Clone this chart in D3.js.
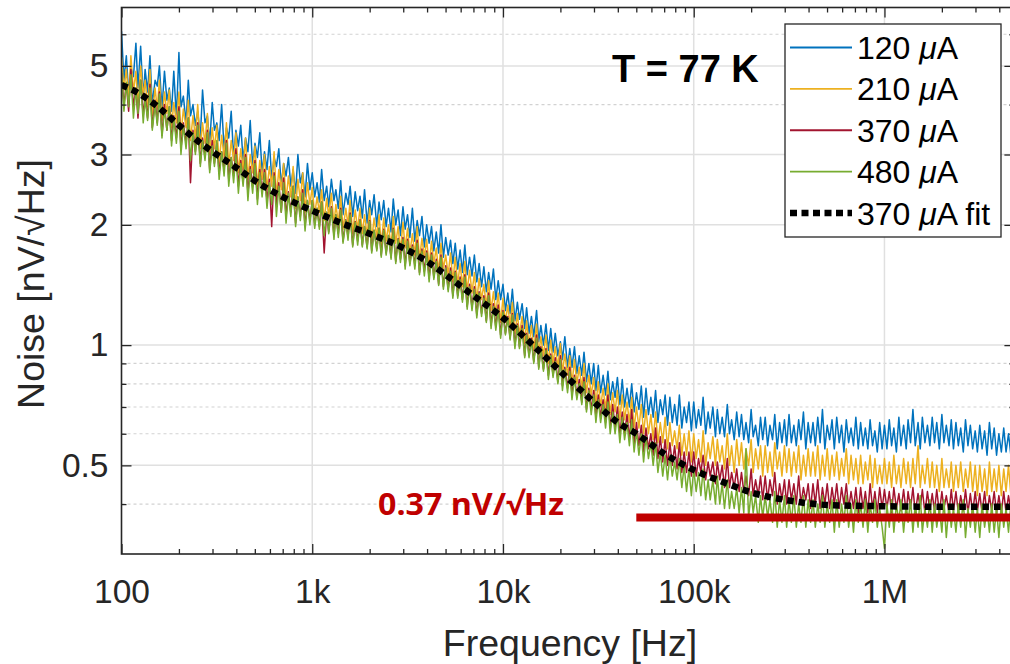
<!DOCTYPE html>
<html>
<head>
<meta charset="utf-8">
<script src="https://cdn.jsdelivr.net/npm/d3@7"></script>
<style>
  html, body { margin: 0; padding: 0; background: #fff; }
  svg { display: block; font-family: "Liberation Sans", Arial, Helvetica, sans-serif; }
</style>
</head>
<body>
<svg id="chart" width="1010" height="664"></svg>
<script>
// Sample frequencies of the measured spectra (Hz), 80 points per decade
const freqHz = [
  100,103,106,109,112,115.5,119,122,126,130,133,137,141,145,150,154,158,163,168,173,178,183,188,194,200,205,211,218,224,230,237,244,251,259,266,274,282,290,299,307,
  316,325,335,345,355,365,376,387,398,410,422,434,447,460,473,487,501,516,531,546,562,579,596,613,631,649,668,688,708,729,750,772,794,818,841,866,891,917,944,972,
  1000,1030,1060,1090,1120,1155,1190,1220,1260,1300,1330,1370,1410,1450,1500,1540,1580,1630,1680,1730,1780,1830,1880,1940,2000,2050,2110,2180,2240,2300,2370,2440,2510,2590,2660,2740,2820,2900,2990,3070,
  3160,3250,3350,3450,3550,3650,3760,3870,3980,4100,4220,4340,4470,4600,4730,4870,5010,5160,5310,5460,5620,5790,5960,6130,6310,6490,6680,6880,7080,7290,7500,7720,7940,8180,8410,8660,8910,9170,9440,9720,
  10000,10300,10600,10900,11200,11550,11900,12200,12600,13000,13300,13700,14100,14500,15000,15400,15800,16300,16800,17300,17800,18300,18800,19400,20000,20500,21100,21800,22400,23000,23700,24400,25100,25900,26600,27400,28200,29000,29900,30700,
  31600,32500,33500,34500,35500,36500,37600,38700,39800,41000,42200,43400,44700,46000,47300,48700,50100,51600,53100,54600,56200,57900,59600,61300,63100,64900,66800,68800,70800,72900,75000,77200,79400,81800,84100,86600,89100,91700,94400,97200,
  100000,103000,106000,109000,112000,115500,119000,122000,126000,130000,133000,137000,141000,145000,150000,154000,158000,163000,168000,173000,178000,183000,188000,194000,200000,205000,211000,218000,224000,230000,237000,244000,251000,259000,266000,274000,282000,290000,299000,307000,
  316000,325000,335000,345000,355000,365000,376000,387000,398000,410000,422000,434000,447000,460000,473000,487000,501000,516000,531000,546000,562000,579000,596000,613000,631000,649000,668000,688000,708000,729000,750000,772000,794000,818000,841000,866000,891000,917000,944000,972000,
  1000000,1030000,1060000,1090000,1120000,1155000,1190000,1220000,1260000,1300000,1330000,1370000,1410000,1450000,1500000,1540000,1580000,1630000,1680000,1730000,1780000,1830000,1880000,1940000,2000000,2050000,2110000,2180000,2240000,2300000,2370000,2440000,2510000,2590000,2660000,2740000,2820000,2900000,2990000,3070000,
  3160000,3250000,3350000,3450000,3550000,3650000,3760000,3870000,3980000,4100000,4220000,4340000,4470000,4600000,4730000,4870000
];

// Noise spectral density (nV/sqrt(Hz)) for each bias current
const noise120uA = [
  6.1,4.6,5.3,4.25,4.95,4.7,5.7,4.4,5.6,4.15, 4.9,4.3,5.3,4.0,4.6,4.45,5.0,3.9,4.85,4.1,
  4.4,3.85,4.85,3.7,5.4,3.95,4.2,3.6,4.6,3.75, 4.0,3.55,3.85,3.3,4.35,3.6,3.75,3.2,4.05,3.45,
  3.6,3.25,4.0,3.1,3.5,3.3,3.85,2.95,3.45,3.15, 3.55,2.9,3.3,3.05,3.65,2.8,3.2,2.95,3.4,2.7,
  3.05,2.75,3.25,2.6,2.95,2.8,3.1,2.5,2.85,2.65, 2.95,2.5,2.75,2.4,3.0,2.55,2.7,2.35,2.85,2.45,
  2.7,2.35,2.55,2.28,2.75,2.3,2.5,2.22,2.6,2.3, 2.45,2.2,2.58,2.12,2.4,2.25,2.5,2.1,2.42,2.17,
  2.36,2.08,2.45,2.02,2.3,2.12,2.38,1.98,2.28,2.06, 2.3,1.98,2.2,1.92,2.32,2.0,2.18,1.88,2.22,1.95,
  2.12,1.86,2.2,1.82,2.05,1.88,2.1,1.76,2.0,1.8, 1.98,1.72,1.92,1.7,2.0,1.66,1.86,1.68,1.83,1.6,
  1.8,1.55,1.73,1.52,1.78,1.5,1.66,1.49,1.68,1.44, 1.6,1.4,1.57,1.36,1.52,1.38,1.55,1.3,1.45,1.3,
  1.42,1.22,1.35,1.2,1.38,1.15,1.28,1.16,1.27,1.1, 1.24,1.07,1.18,1.05,1.22,1.02,1.12,1.0,1.13,0.97,
  1.1,0.96,1.07,0.94,1.02,0.92,1.05,0.88,0.98,0.88, 0.99,0.85,0.94,0.84,0.96,0.81,0.9,0.8,0.9,0.77,
  0.89,0.76,0.84,0.75,0.86,0.73,0.81,0.74,0.83,0.71, 0.82,0.7,0.78,0.7,0.8,0.68,0.76,0.69,0.79,0.66,
  0.78,0.67,0.74,0.66,0.77,0.64,0.73,0.67,0.75,0.63, 0.74,0.64,0.71,0.63,0.75,0.62,0.7,0.64,0.72,0.61,
  0.72,0.62,0.69,0.63,0.74,0.6,0.68,0.62,0.7,0.59, 0.69,0.6,0.66,0.59,0.71,0.6,0.65,0.58,0.68,0.59,
  0.67,0.58,0.64,0.57,0.69,0.59,0.63,0.56,0.66,0.58, 0.66,0.56,0.63,0.58,0.67,0.55,0.64,0.57,0.65,0.56,
  0.67,0.57,0.63,0.56,0.65,0.58,0.68,0.55,0.64,0.57, 0.64,0.56,0.66,0.57,0.69,0.55,0.63,0.58,0.65,0.55,
  0.66,0.57,0.63,0.54,0.65,0.57,0.62,0.56,0.66,0.55, 0.64,0.56,0.62,0.55,0.65,0.56,0.61,0.54,0.64,0.55,
  0.63,0.55,0.65,0.56,0.62,0.54,0.66,0.56,0.63,0.55, 0.65,0.57,0.69,0.56,0.64,0.55,0.66,0.57,0.63,0.56,
  0.66,0.57,0.64,0.55,0.67,0.57,0.63,0.56,0.65,0.55, 0.64,0.56,0.62,0.54,0.65,0.56,0.63,0.55,0.61,0.54,
  0.63,0.55,0.61,0.53,0.64,0.55,0.62,0.53,0.6,0.54, 0.62,0.54,0.6,0.53,0.61,0.53
];
const noise210uA = [
  5.25,4.35,4.9,4.15,5.3,4.3,4.85,3.95,5.0,4.2, 4.6,3.95,4.9,3.75,4.4,3.9,4.6,3.65,4.3,3.8,
  4.35,3.5,4.05,3.6,4.3,3.35,3.9,3.5,4.1,3.25, 3.75,3.3,4.0,3.1,3.6,3.2,3.8,3.0,3.5,3.1,
  3.55,2.85,3.35,2.95,3.6,2.8,3.25,2.9,3.4,2.7, 3.1,2.75,3.3,2.6,3.0,2.7,3.15,2.5,2.9,2.6,
  3.0,2.45,2.8,2.5,3.05,2.35,2.75,2.45,2.85,2.3, 2.65,2.35,2.8,2.2,2.6,2.3,2.7,2.15,2.55,2.25,
  2.48,2.12,2.35,2.15,2.45,2.05,2.33,2.1,2.4,2.0, 2.25,2.02,2.36,1.95,2.2,2.0,2.3,1.9,2.18,1.95,
  2.2,1.9,2.12,1.88,2.2,1.83,2.08,1.86,2.12,1.78, 2.08,1.82,2.0,1.76,2.1,1.8,1.98,1.72,2.03,1.75,
  1.96,1.7,1.9,1.68,1.98,1.64,1.85,1.66,1.84,1.58, 1.82,1.6,1.75,1.52,1.8,1.55,1.68,1.5,1.7,1.44,
  1.66,1.42,1.6,1.4,1.62,1.36,1.54,1.35,1.52,1.29, 1.47,1.3,1.42,1.25,1.45,1.22,1.36,1.2,1.35,1.14,
  1.31,1.14,1.26,1.12,1.28,1.07,1.2,1.06,1.18,1.01, 1.15,1.0,1.12,0.97,1.13,0.95,1.05,0.94,1.06,0.9,
  1.03,0.9,0.99,0.88,1.01,0.85,0.95,0.84,0.94,0.8, 0.92,0.8,0.88,0.78,0.9,0.76,0.84,0.75,0.83,0.71,
  0.81,0.7,0.78,0.69,0.8,0.67,0.76,0.68,0.77,0.65, 0.75,0.65,0.72,0.64,0.74,0.62,0.7,0.62,0.71,0.6,
  0.69,0.6,0.67,0.58,0.68,0.57,0.64,0.57,0.66,0.55, 0.64,0.56,0.61,0.55,0.63,0.53,0.6,0.53,0.61,0.51,
  0.6,0.52,0.58,0.51,0.61,0.5,0.57,0.52,0.59,0.5, 0.58,0.51,0.56,0.49,0.6,0.5,0.56,0.48,0.58,0.5,
  0.57,0.49,0.55,0.5,0.58,0.48,0.55,0.49,0.56,0.47, 0.56,0.48,0.54,0.47,0.57,0.49,0.54,0.47,0.56,0.48,
  0.55,0.47,0.54,0.48,0.56,0.46,0.53,0.47,0.55,0.47, 0.54,0.47,0.56,0.46,0.53,0.47,0.55,0.46,0.53,0.47,
  0.54,0.46,0.52,0.47,0.55,0.45,0.53,0.46,0.52,0.45, 0.53,0.45,0.51,0.46,0.53,0.44,0.52,0.45,0.5,0.45,
  0.52,0.45,0.51,0.44,0.53,0.45,0.5,0.44,0.52,0.45, 0.51,0.44,0.52,0.45,0.56,0.44,0.5,0.45,0.52,0.44,
  0.51,0.44,0.5,0.43,0.52,0.44,0.49,0.44,0.51,0.43, 0.5,0.44,0.51,0.43,0.49,0.44,0.51,0.43,0.5,0.42,
  0.5,0.43,0.49,0.42,0.51,0.43,0.49,0.43,0.5,0.42, 0.49,0.43,0.5,0.42,0.49,0.43
];
const noise370uA = [
  4.8,4.0,4.5,3.85,4.9,3.95,4.4,3.7,4.6,3.75, 4.25,3.7,4.5,3.5,4.1,3.6,4.3,3.35,4.0,3.45,
  3.95,3.25,3.75,3.3,3.95,3.1,3.6,3.2,3.7,2.55, 3.45,3.05,3.6,2.85,3.3,2.95,3.45,2.75,3.25,2.85,
  3.2,2.7,3.05,2.75,3.25,2.6,2.95,2.65,3.1,2.5, 2.9,2.55,3.0,2.4,2.8,2.5,2.9,2.32,2.75,2.4,
  2.75,2.3,2.6,1.98,2.7,2.25,2.55,2.15,2.62,2.1, 2.42,2.15,2.5,2.02,2.35,2.1,2.45,1.98,2.3,2.05,
  2.3,2.0,2.2,1.98,2.28,1.7,2.15,1.92,2.22,1.88, 2.12,1.9,2.2,1.82,2.06,1.86,2.14,1.78,2.04,1.82,
  2.06,1.78,1.98,1.76,2.05,1.72,1.94,1.74,1.96,1.68, 1.95,1.7,1.88,1.66,1.96,1.62,1.85,1.64,1.86,1.58,
  1.84,1.6,1.78,1.58,1.83,1.52,1.74,1.53,1.72,1.47, 1.7,1.48,1.64,1.42,1.68,1.4,1.58,1.38,1.56,1.33,
  1.53,1.33,1.48,1.3,1.5,1.25,1.42,1.24,1.4,1.19, 1.36,1.2,1.33,1.15,1.35,1.12,1.27,1.11,1.26,1.06,
  1.22,1.07,1.18,1.04,1.2,1.0,1.13,0.99,1.12,0.94, 1.07,0.94,1.04,0.91,1.06,0.88,0.99,0.87,0.98,0.84,
  0.95,0.84,0.93,0.81,0.94,0.79,0.88,0.78,0.88,0.75, 0.84,0.74,0.82,0.72,0.83,0.69,0.78,0.69,0.77,0.66,
  0.75,0.66,0.73,0.64,0.75,0.62,0.71,0.62,0.7,0.6, 0.68,0.6,0.67,0.58,0.69,0.56,0.64,0.56,0.63,0.54,
  0.62,0.55,0.6,0.53,0.62,0.52,0.59,0.51,0.58,0.5, 0.57,0.5,0.56,0.49,0.57,0.48,0.54,0.48,0.54,0.47,
  0.54,0.47,0.52,0.48,0.53,0.46,0.51,0.47,0.51,0.45, 0.51,0.46,0.5,0.44,0.52,0.44,0.48,0.44,0.49,0.43,
  0.48,0.43,0.47,0.42,0.49,0.42,0.46,0.42,0.47,0.41, 0.47,0.41,0.46,0.42,0.48,0.4,0.45,0.41,0.46,0.4,
  0.46,0.41,0.45,0.4,0.47,0.4,0.44,0.41,0.45,0.39, 0.45,0.4,0.46,0.39,0.44,0.4,0.45,0.39,0.44,0.4,
  0.45,0.39,0.44,0.4,0.45,0.39,0.43,0.39,0.44,0.38, 0.44,0.39,0.43,0.38,0.45,0.39,0.43,0.38,0.44,0.39,
  0.435,0.39,0.43,0.38,0.44,0.39,0.425,0.385,0.435,0.38, 0.43,0.39,0.44,0.38,0.425,0.39,0.435,0.38,0.43,0.385,
  0.425,0.385,0.435,0.38,0.43,0.39,0.42,0.38,0.435,0.385, 0.43,0.38,0.42,0.385,0.435,0.38,0.425,0.38,0.43,0.385,
  0.425,0.38,0.43,0.375,0.42,0.385,0.43,0.38,0.42,0.38, 0.43,0.38,0.42,0.385,0.425,0.38
];
const noise480uA = [
  4.85,3.85,4.55,3.95,4.75,3.7,4.4,3.8,4.6,3.6, 4.15,3.65,4.4,3.45,4.0,3.55,4.25,3.3,3.9,3.45,
  3.95,3.15,3.7,3.2,3.85,3.0,3.55,3.1,3.7,2.9, 3.4,3.0,3.55,2.8,3.25,2.9,3.4,2.7,3.15,2.8,
  3.25,2.6,3.05,2.65,3.2,2.5,2.95,2.55,3.0,2.4, 2.85,2.5,2.95,2.3,2.75,2.4,2.85,2.25,2.7,2.35,
  2.7,2.2,2.55,2.25,2.65,2.1,2.5,2.15,2.55,2.02, 2.4,2.1,2.5,1.98,2.35,2.05,2.4,1.93,2.3,2.0,
  2.3,1.96,2.2,1.95,2.28,1.88,2.15,1.9,2.2,1.84, 2.12,1.86,2.18,1.8,2.05,1.83,2.12,1.76,2.03,1.78,
  2.05,1.76,1.98,1.74,2.04,1.7,1.94,1.72,1.96,1.66, 1.94,1.68,1.88,1.64,1.95,1.6,1.84,1.61,1.84,1.55,
  1.82,1.58,1.76,1.55,1.8,1.5,1.72,1.49,1.7,1.44, 1.68,1.46,1.62,1.41,1.66,1.38,1.56,1.36,1.53,1.31,
  1.52,1.31,1.46,1.28,1.48,1.23,1.4,1.22,1.38,1.17, 1.35,1.18,1.31,1.14,1.33,1.1,1.25,1.09,1.23,1.04,
  1.21,1.06,1.17,1.03,1.19,0.98,1.12,0.98,1.1,0.93, 1.06,0.93,1.03,0.9,1.04,0.87,0.98,0.86,0.97,0.82,
  0.94,0.83,0.91,0.8,0.92,0.77,0.87,0.76,0.86,0.73, 0.83,0.73,0.8,0.71,0.81,0.68,0.77,0.67,0.75,0.64,
  0.73,0.64,0.71,0.62,0.72,0.6,0.68,0.6,0.67,0.57, 0.66,0.58,0.64,0.56,0.65,0.54,0.61,0.53,0.6,0.51,
  0.59,0.52,0.57,0.5,0.57,0.48,0.54,0.47,0.53,0.46, 0.53,0.47,0.51,0.46,0.52,0.44,0.5,0.43,0.49,0.42,
  0.49,0.43,0.48,0.42,0.49,0.41,0.46,0.41,0.46,0.4, 0.47,0.4,0.45,0.39,0.46,0.39,0.43,0.39,0.44,0.38,
  0.44,0.38,0.55,0.37,0.43,0.38,0.42,0.36,0.42,0.37, 0.42,0.37,0.41,0.36,0.43,0.35,0.41,0.36,0.42,0.35,
  0.41,0.36,0.42,0.35,0.4,0.36,0.42,0.35,0.41,0.36, 0.41,0.35,0.4,0.36,0.42,0.35,0.4,0.36,0.41,0.34,
  0.41,0.35,0.4,0.36,0.42,0.35,0.4,0.34,0.41,0.36, 0.4,0.35,0.41,0.34,0.4,0.36,0.41,0.35,0.39,0.35,
  0.31,0.4,0.35,0.41,0.34,0.4,0.36,0.41,0.34,0.4, 0.36,0.41,0.34,0.4,0.35,0.42,0.34,0.39,0.35,0.41,
  0.34,0.4,0.35,0.39,0.34,0.41,0.33,0.4,0.35,0.39, 0.34,0.4,0.35,0.41,0.33,0.39,0.35,0.4,0.34,0.39,
  0.33,0.4,0.35,0.39,0.34,0.4,0.34,0.39,0.33,0.4, 0.35,0.39,0.34,0.4,0.33,0.39
];

// Model fit of the 370 uA spectrum
const fitHz = [100,125,150,200,250,300,400,500,700,1000,1500,2000,3000,4000,5000,7000,10000,15000,20000,30000,40000,50000,70000,100000,150000,200000,300000,500000,1000000,2000000,4800000];
const fit370uA = [4.48,4.25,4.0,3.55,3.25,3.05,2.78,2.58,2.35,2.17,2.0,1.9,1.75,1.62,1.5,1.33,1.17,0.98,0.86,0.72,0.64,0.6,0.535,0.487,0.45,0.428,0.41,0.398,0.395,0.394,0.394];

// White-noise floor marker
const floorLevel = 0.37;
const floorStartHz = 50000;
const floorLabel = "0.37 nV/\u221AHz";

// Axis ticks
const xTickValues = [100, 1e3, 1e4, 1e5, 1e6];
const xTickLabels = ["100", "1k", "10k", "100k", "1M"];
const xMinorValues = [200,300,400,500,600,700,800,900,2e3,3e3,4e3,5e3,6e3,7e3,8e3,9e3,2e4,3e4,4e4,5e4,6e4,7e4,8e4,9e4,2e5,3e5,4e5,5e5,6e5,7e5,8e5,9e5,2e6,3e6,4e6];
const yTickValues = [0.5, 1, 2, 3, 5];
const yTickLabels = ["0.5", "1", "2", "3", "5"];
const yMinorValues = [0.4, 0.6, 0.7, 0.8, 0.9, 4, 6];

// Series styling and legend text
const seriesCurrents = ["120", "210", "370", "480"];
const seriesColors = ["#0072BD", "#EDB120", "#A2142F", "#77AC30"];
const seriesValues = [noise120uA, noise210uA, noise370uA, noise480uA];

const svg = d3.select("#chart");
const plot = { left: 121.5, top: 7.5, right: 1014.4, bottom: 554 };
const ink = "#262626";

const x = d3.scaleLog().domain([100, 4.8e6]).range([plot.left, plot.right]);
const y = d3.scaleLog().domain([0.3, 7]).range([plot.bottom, plot.top]);

svg.append("rect").attr("width", 1010).attr("height", 664).attr("fill", "#fff");

svg.append("defs").append("clipPath").attr("id", "plotClip")
  .append("rect")
  .attr("x", plot.left).attr("y", plot.top)
  .attr("width", plot.right - plot.left).attr("height", plot.bottom - plot.top);

// Grid
const grid = svg.append("g");
grid.selectAll(".ymajor").data(yTickValues).join("line")
  .attr("x1", plot.left).attr("x2", plot.right)
  .attr("y1", d => y(d)).attr("y2", d => y(d))
  .attr("stroke", "#e0e0e0").attr("stroke-width", 1.5);
grid.selectAll(".yminor").data(yMinorValues).join("line")
  .attr("x1", plot.left).attr("x2", plot.right)
  .attr("y1", d => y(d)).attr("y2", d => y(d))
  .attr("stroke", "#d2d2d2").attr("stroke-width", 1.2).attr("stroke-dasharray", "3,3");
grid.selectAll(".xmajor").data(xTickValues.slice(1)).join("line")
  .attr("x1", d => x(d)).attr("x2", d => x(d))
  .attr("y1", plot.top).attr("y2", plot.bottom)
  .attr("stroke", "#e0e0e0").attr("stroke-width", 1.5);

// Spectra
const dataLayer = svg.append("g").attr("clip-path", "url(#plotClip)");
const line = d3.line().x(d => x(d[0])).y(d => y(d[1]));
seriesValues.forEach((vals, i) => {
  dataLayer.append("path")
    .datum(d3.zip(freqHz, vals))
    .attr("d", line)
    .attr("fill", "none")
    .attr("stroke", seriesColors[i])
    .attr("stroke-width", 1.5)
    .attr("stroke-linejoin", "round");
});

// Fit curve
dataLayer.append("path")
  .datum(d3.zip(fitHz, fit370uA))
  .attr("d", d3.line().x(d => x(d[0])).y(d => y(d[1])).curve(d3.curveMonotoneX))
  .attr("fill", "none")
  .attr("stroke", "#000")
  .attr("stroke-width", 6.5)
  .attr("stroke-dasharray", "6.5,5");

// Noise floor marker
dataLayer.append("line")
  .attr("x1", x(floorStartHz)).attr("x2", plot.right)
  .attr("y1", y(floorLevel)).attr("y2", y(floorLevel))
  .attr("stroke", "#C00000").attr("stroke-width", 8);

svg.append("text")
  .attr("x", 378).attr("y", 515)
  .attr("font-family", "'Open Sans', 'Noto Sans', sans-serif")
  .attr("font-weight", "bold")
  .attr("font-size", 31)
  .attr("fill", "#C00000")
  .attr("textLength", 186)
  .attr("lengthAdjust", "spacingAndGlyphs")
  .text(floorLabel);

// Axes
function styleAxis(g, fontSize) {
  g.attr("font-family", null).attr("font-size", fontSize);
  g.select(".domain").remove();
  g.selectAll(".tick line").attr("stroke", ink).attr("stroke-width", 1.3);
  g.selectAll(".tick text").attr("fill", ink);
}
const fsTick = 33.5;

svg.append("g").attr("transform", `translate(0,${plot.bottom})`)
  .call(d3.axisBottom(x).tickValues(xTickValues).tickFormat((d, i) => xTickLabels[i]).tickSize(-10).tickPadding(25))
  .call(g => styleAxis(g, fsTick));
svg.append("g").attr("transform", `translate(0,${plot.bottom})`)
  .call(d3.axisBottom(x).tickValues(xMinorValues).tickFormat("").tickSize(-5))
  .call(g => styleAxis(g, fsTick));
svg.append("g").attr("transform", `translate(0,${plot.top})`)
  .call(d3.axisTop(x).tickValues(xTickValues).tickFormat("").tickSize(-10))
  .call(g => styleAxis(g, fsTick));
svg.append("g").attr("transform", `translate(0,${plot.top})`)
  .call(d3.axisTop(x).tickValues(xMinorValues).tickFormat("").tickSize(-5))
  .call(g => styleAxis(g, fsTick));

svg.append("g").attr("transform", `translate(${plot.left},0)`)
  .call(d3.axisLeft(y).tickValues(yTickValues).tickFormat((d, i) => yTickLabels[i]).tickSize(-10).tickPadding(13))
  .call(g => styleAxis(g, fsTick));
svg.append("g").attr("transform", `translate(${plot.left},0)`)
  .call(d3.axisLeft(y).tickValues(yMinorValues).tickFormat("").tickSize(-5))
  .call(g => styleAxis(g, fsTick));
svg.append("g").attr("transform", `translate(${plot.right},0)`)
  .call(d3.axisRight(y).tickValues(yTickValues).tickFormat("").tickSize(-10))
  .call(g => styleAxis(g, fsTick));
svg.append("g").attr("transform", `translate(${plot.right},0)`)
  .call(d3.axisRight(y).tickValues(yMinorValues).tickFormat("").tickSize(-5))
  .call(g => styleAxis(g, fsTick));

// Axes box
svg.append("rect")
  .attr("x", plot.left).attr("y", plot.top)
  .attr("width", plot.right - plot.left).attr("height", plot.bottom - plot.top)
  .attr("fill", "none").attr("stroke", ink).attr("stroke-width", 1.6);

// Axis titles
svg.append("text")
  .attr("x", 570).attr("y", 656)
  .attr("text-anchor", "middle")
  .attr("font-size", 37.5).attr("fill", ink)
  .text("Frequency [Hz]");
svg.append("text")
  .attr("transform", "translate(44,284) rotate(-90)")
  .attr("text-anchor", "middle")
  .attr("font-size", 37.5).attr("fill", ink)
  .text("Noise [nV/\u221AHz]");

// Temperature annotation
svg.append("text")
  .attr("x", 612).attr("y", 81.5)
  .attr("font-size", 38).attr("font-weight", "bold").attr("fill", "#000")
  .text("T = 77 K");

// Legend
const legend = svg.append("g");
legend.append("rect")
  .attr("x", 785).attr("y", 24).attr("width", 216).attr("height", 213)
  .attr("fill", "#fff").attr("stroke", ink).attr("stroke-width", 1.3);
const legendRows = seriesCurrents.map((c, i) => ({ current: c, color: seriesColors[i], dashed: false, suffix: "" }))
  .concat([{ current: "370", color: "#000", dashed: true, suffix: " fit" }]);
const rowY = d3.scaleLinear().domain([0, 4]).range([47.5, 213]);
legendRows.forEach((r, i) => {
  const yy = rowY(i);
  legend.append("line")
    .attr("x1", 790).attr("x2", 852).attr("y1", yy).attr("y2", yy)
    .attr("stroke", r.color)
    .attr("stroke-width", r.dashed ? 6.5 : 1.8)
    .attr("stroke-dasharray", r.dashed ? "7,4.5" : null);
  const t = legend.append("text")
    .attr("x", 857).attr("y", yy).attr("dy", "0.36em")
    .attr("font-size", 32).attr("fill", "#000");
  t.append("tspan").text(r.current + " ");
  t.append("tspan").attr("font-style", "italic").text("\u03BC");
  t.append("tspan").text("A" + r.suffix);
});
</script>
</body>
</html>
